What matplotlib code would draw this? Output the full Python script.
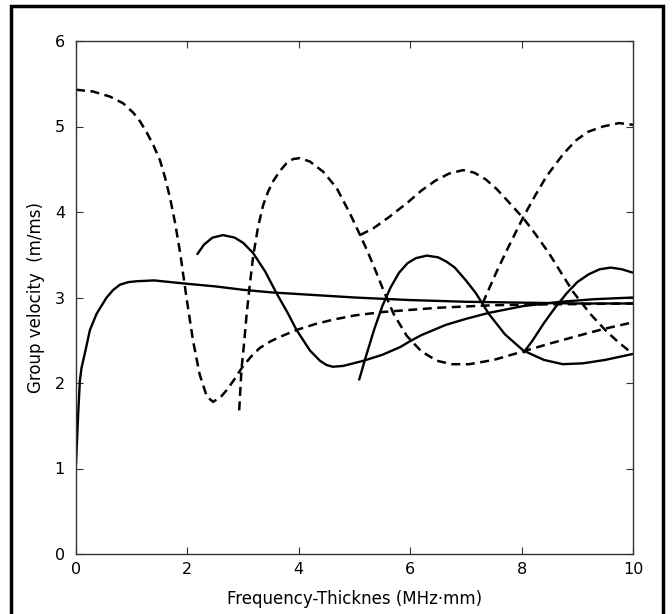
import matplotlib
matplotlib.use('Agg')
import matplotlib.pyplot as plt
from matplotlib.patches import Rectangle

# KURVA SOLID
a0_x = [0, 0.02, 0.04, 0.07, 0.1, 0.16, 0.25, 0.37, 0.55, 0.67, 0.79, 0.94, 1.09, 1.4, 1.7, 2.0, 2.5, 3.0, 3.5, 4.0, 5.0, 6.0, 7.0, 8.0, 9.0, 10.0]
a0_y = [1.05, 1.35, 1.65, 2.03, 2.18, 2.35, 2.62, 2.81, 3.0, 3.09, 3.15, 3.18, 3.19, 3.2, 3.18, 3.16, 3.13, 3.09, 3.06, 3.04, 3.0, 2.97, 2.95, 2.94, 2.93, 2.93]

a1_x = [2.17, 2.3, 2.45, 2.64, 2.85, 3.0, 3.18, 3.4, 3.6, 3.8, 3.96, 4.2, 4.38, 4.5, 4.61, 4.8, 5.16, 5.5, 5.82, 6.0, 6.2, 6.64, 7.0, 7.41, 8.03, 8.7, 9.3, 10.0]
a1_y = [3.5, 3.62, 3.7, 3.73, 3.7, 3.64, 3.52, 3.3, 3.05, 2.82, 2.62, 2.38, 2.26, 2.21, 2.19, 2.2, 2.26, 2.33, 2.42, 2.49, 2.56, 2.68, 2.75, 2.82, 2.9, 2.95, 2.98, 3.0]

a2_x = [5.08, 5.2, 5.35, 5.5, 5.65, 5.8, 5.95, 6.1, 6.3, 6.5, 6.65, 6.8, 7.0, 7.18, 7.41, 7.7, 8.03, 8.4, 8.74, 9.1, 9.5, 10.0]
a2_y = [2.03, 2.3, 2.62, 2.9, 3.12, 3.29, 3.4, 3.46, 3.49, 3.47, 3.42, 3.35, 3.2, 3.05, 2.81, 2.57, 2.38, 2.27, 2.22, 2.23, 2.27, 2.34]

a3_x = [8.03, 8.2, 8.4, 8.6, 8.81, 9.0, 9.2, 9.4, 9.6, 9.8, 10.0]
a3_y = [2.35, 2.5, 2.7, 2.88, 3.05, 3.18, 3.27, 3.33, 3.35, 3.33, 3.29]

# KURVA PUTUS-PUTUS
s0_x = [0, 0.3, 0.61, 0.85, 1.03, 1.15, 1.27, 1.39, 1.51, 1.6, 1.69, 1.78, 1.87, 1.99, 2.1, 2.22, 2.35, 2.46, 2.59, 2.71, 2.84, 2.97, 3.13, 3.3, 3.5, 3.7, 3.96, 4.3, 4.61, 5.0, 5.5, 6.5, 7.5, 8.5, 10.0]
s0_y = [5.43, 5.41, 5.35, 5.27, 5.16, 5.06, 4.93, 4.78, 4.6, 4.4, 4.16, 3.87, 3.52, 2.97, 2.5, 2.1, 1.84, 1.78, 1.83, 1.92, 2.04, 2.17, 2.3, 2.41, 2.49, 2.55, 2.62, 2.69, 2.74, 2.79, 2.83, 2.88, 2.91, 2.92, 2.93]

s1_x = [2.93, 2.97, 3.02, 3.06, 3.11, 3.18, 3.27, 3.36, 3.45, 3.54, 3.66, 3.78, 3.9, 4.02, 4.2, 4.44, 4.68, 4.92, 5.1, 5.22, 5.35, 5.51, 5.7, 5.94, 6.2, 6.48, 6.75, 7.06, 7.5, 8.03, 8.5, 9.0, 9.46, 10.0]
s1_y = [1.68, 2.15, 2.48, 2.78, 3.09, 3.48, 3.83, 4.08, 4.24, 4.36, 4.48, 4.57, 4.62, 4.63, 4.59, 4.47, 4.28, 3.98, 3.73, 3.56, 3.36, 3.1, 2.81, 2.55, 2.37, 2.26, 2.22, 2.22, 2.27, 2.37, 2.46, 2.55, 2.63, 2.71]

s2_x = [5.1, 5.34, 5.64, 5.97, 6.2, 6.46, 6.7, 6.95, 7.15, 7.36, 7.55, 7.75, 8.04, 8.25, 8.49, 8.7, 8.92, 9.23, 9.53, 9.75, 9.98]
s2_y = [3.73, 3.81, 3.95, 4.12, 4.25, 4.37, 4.45, 4.49, 4.46, 4.38, 4.27, 4.13, 3.92, 3.74, 3.52, 3.3, 3.07, 2.81, 2.6, 2.47, 2.35]

s3_x = [7.3, 7.38, 7.55, 7.74, 8.03, 8.25, 8.45, 8.75, 8.98, 9.2, 9.46, 9.75, 10.0]
s3_y = [2.93, 3.05, 3.3, 3.56, 3.94, 4.2, 4.42, 4.68, 4.84, 4.94, 5.0, 5.04, 5.02]

solid = [(a0_x, a0_y), (a1_x, a1_y), (a2_x, a2_y), (a3_x, a3_y)]
dashed = [(s0_x, s0_y), (s1_x, s1_y), (s2_x, s2_y), (s3_x, s3_y)]

x_ticks = [0, 2, 4, 6, 8, 10]
y_ticks = [0, 1, 2, 3, 4, 5, 6]

fig = plt.figure(figsize=(6.72, 6.14), dpi=100)
ax = fig.add_axes([76 / 672, 60 / 614, 557 / 672, 513 / 614])

for xs, ys in solid:
    ax.plot(xs, ys, color='black', lw=1.7, solid_capstyle='butt', solid_joinstyle='round')
for xs, ys in dashed:
    ax.plot(xs, ys, color='black', lw=1.8, dashes=(3.6, 2.2), dash_capstyle='butt')

ax.set_xlim(0, 10)
ax.set_ylim(0, 6)
ax.set_xticks(x_ticks)
ax.set_yticks(y_ticks)
ax.tick_params(direction='in', length=5, width=0.8, top=True, right=True,
               labeltop=False, labelright=False, labelsize=11.5, color='#333333')
ax.tick_params(axis='x', pad=6)
ax.tick_params(axis='y', pad=8)
for sp in ax.spines.values():
    sp.set_color('#333333')
    sp.set_linewidth(1.0)

ax.set_xlabel('Frequency-Thicknes (MHz·mm)', fontsize=12, labelpad=9)
ax.set_ylabel('Group velocity  (m/ms)', fontsize=12, labelpad=7)

# BINGKAI LUAR
fig.patches.append(Rectangle((11 / 672, -0.01), 652 / 672, 1.0 - 6 / 614 + 0.01,
                             transform=fig.transFigure, fill=False,
                             edgecolor='black', lw=2.5))

fig.savefig('out.png', dpi=100)
